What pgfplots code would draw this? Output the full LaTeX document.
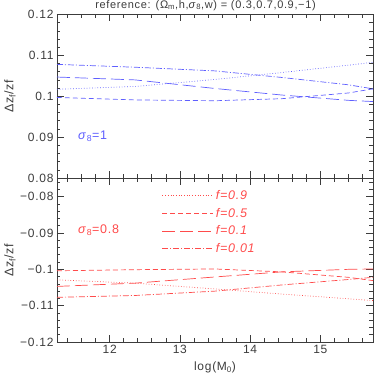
\documentclass[border=0pt]{standalone}
\usepackage{fontspec}
\setmainfont[LetterSpace=6]{Liberation Sans}
\usepackage{pgfplots}
\pgfplotsset{compat=1.18}

\definecolor{lblue}{RGB}{95,95,255}
\definecolor{lred}{RGB}{255,75,75}
\definecolor{axgray}{RGB}{60,60,60}

\pgfplotsset{
  panel/.style={
    scale only axis, width=316pt, height=163.5pt,
    xmin=11.25, xmax=15.75,
    xtick={12,13,14,15},
    minor xtick={11.4,11.6,11.8,12.2,12.4,12.6,12.8,13.2,13.4,13.6,13.8,14.2,14.4,14.6,14.8,15.2,15.4,15.6},
    tick align=inside, major tick length=7pt, minor tick length=3.5pt,
    axis line style={axgray, line width=0.8pt},
    every tick/.style={axgray, line width=0.6pt},
    every tick label/.append style={font=\fontsize{12}{14}\selectfont, text=axgray},
    /pgf/number format/assume math mode=true,
    every axis y label/.style={at={(axis description cs:-0.149,0.5)}, rotate=90, anchor=center,
      font=\fontsize{12.5}{14}\selectfont, text=axgray},
    ylabel={Δz\textsubscript{f}/zf},
    every axis plot/.append style={line width=0.7pt},
  },
  fdot/.style={dotted},
  fdash/.style={dash pattern=on 5pt off 3pt},
  flong/.style={dash pattern=on 13pt off 5pt},
  fdd/.style={dash pattern=on 6pt off 2pt on 1pt off 2pt},
}

\begin{document}
\begin{tikzpicture}
\useasboundingbox (-57pt,-40pt) rectangle (325pt,342pt);

% panel superieur, sigma_8 = 1
\begin{axis}[panel, name=top, at={(0pt,164pt)}, anchor=south west,
  ymin=0.08, ymax=0.12,
  ytick={0.08,0.09,0.1,0.11,0.12},
  yticklabels={0.08,0.09,0.1,0.11,0.12},
  minor ytick={0.082,0.084,0.086,0.088,0.092,0.094,0.096,0.098,0.102,0.104,0.106,0.108,0.112,0.114,0.116,0.118},
  xticklabels={},
  title={reference: (Ω\textsubscript{m},h,\textit{σ}\textsubscript{8},w) = (0.3,0.7,0.9,−1)},
  every axis title/.style={font=\fontsize{11}{13}\selectfont, text=axgray,
    at={(axis description cs:0.47,1)}, anchor=center, yshift=9pt},
]
\addplot[lblue, fdot] coordinates {
  (11.25,0.1017) (12.36,0.1024) (13.5,0.1041) (14.45,0.1058) (15.4,0.1076) (15.75,0.1083)};
\addplot[lblue, fdash] coordinates {
  (11.25,0.0997) (12.36,0.0991) (13.5,0.0989) (14.45,0.0994) (15.4,0.1008) (15.75,0.1018)};
\addplot[lblue, flong] coordinates {
  (11.25,0.1047) (12.36,0.1040) (13.5,0.1019) (14.45,0.1003) (15.4,0.0990) (15.75,0.0987)};
\addplot[lblue, fdd] coordinates {
  (11.25,0.1078) (12.36,0.1071) (13.5,0.1062) (14.45,0.1046) (15.4,0.1028) (15.75,0.1018)};
\node[anchor=west, text=lblue, font=\fontsize{12.5}{14}\selectfont] at (axis cs:11.5,0.0901)
  {\textit{σ}\textsubscript{8}=1};
\end{axis}

% panel inferieur, sigma_8 = 0.8
\begin{axis}[panel, name=bot, at={(0pt,0pt)}, anchor=south west,
  ymin=-0.12, ymax=-0.075,
  ytick={-0.12,-0.11,-0.1,-0.09,-0.08},
  yticklabels={−0.12,−0.11,−0.1,−0.09,−0.08},
  minor ytick={-0.118,-0.116,-0.114,-0.112,-0.108,-0.106,-0.104,-0.102,-0.098,-0.096,-0.094,-0.092,-0.088,-0.086,-0.084,-0.082,-0.078,-0.076},
  xticklabels={12,13,14,15},
  xlabel={log(M\textsubscript{0})},
  xlabel style={font=\fontsize{12}{14}\selectfont, text=axgray, yshift=-1pt},
  legend style={at={(axis description cs:0.332,0.94)}, anchor=north west, draw=none, fill=none,
    font=\fontsize{12.5}{14}\selectfont\itshape, text=lred, inner sep=0pt, row sep=3pt,
    cells={anchor=west}},
  legend image code/.code={\draw[#1] (0pt,0pt) -- (51pt,0pt);},
]
\addplot[lred, fdot] coordinates {
  (11.25,-0.1029) (12.36,-0.1038) (13.5,-0.1054) (14.45,-0.1068) (15.4,-0.1081) (15.75,-0.1086)};
\addplot[lred, fdash] coordinates {
  (11.25,-0.1004) (12.36,-0.1001) (13.5,-0.0999) (14.45,-0.1007) (15.4,-0.1022) (15.75,-0.1031)};
\addplot[lred, flong] coordinates {
  (11.25,-0.1047) (12.36,-0.1038) (13.5,-0.1021) (14.45,-0.1007) (15.4,-0.1000) (15.75,-0.0999)};
\addplot[lred, fdd] coordinates {
  (11.25,-0.1077) (12.36,-0.1072) (13.5,-0.1060) (14.45,-0.1043) (15.4,-0.1028) (15.75,-0.1022)};
\legend{f=0.9, f=0.5, f=0.1, f=0.01}
\node[anchor=west, text=lred, font=\fontsize{12.5}{14}\selectfont] at (axis cs:11.5,-0.0893)
  {\textit{σ}\textsubscript{8}=0.8};
\end{axis}
\end{tikzpicture}
\end{document}
